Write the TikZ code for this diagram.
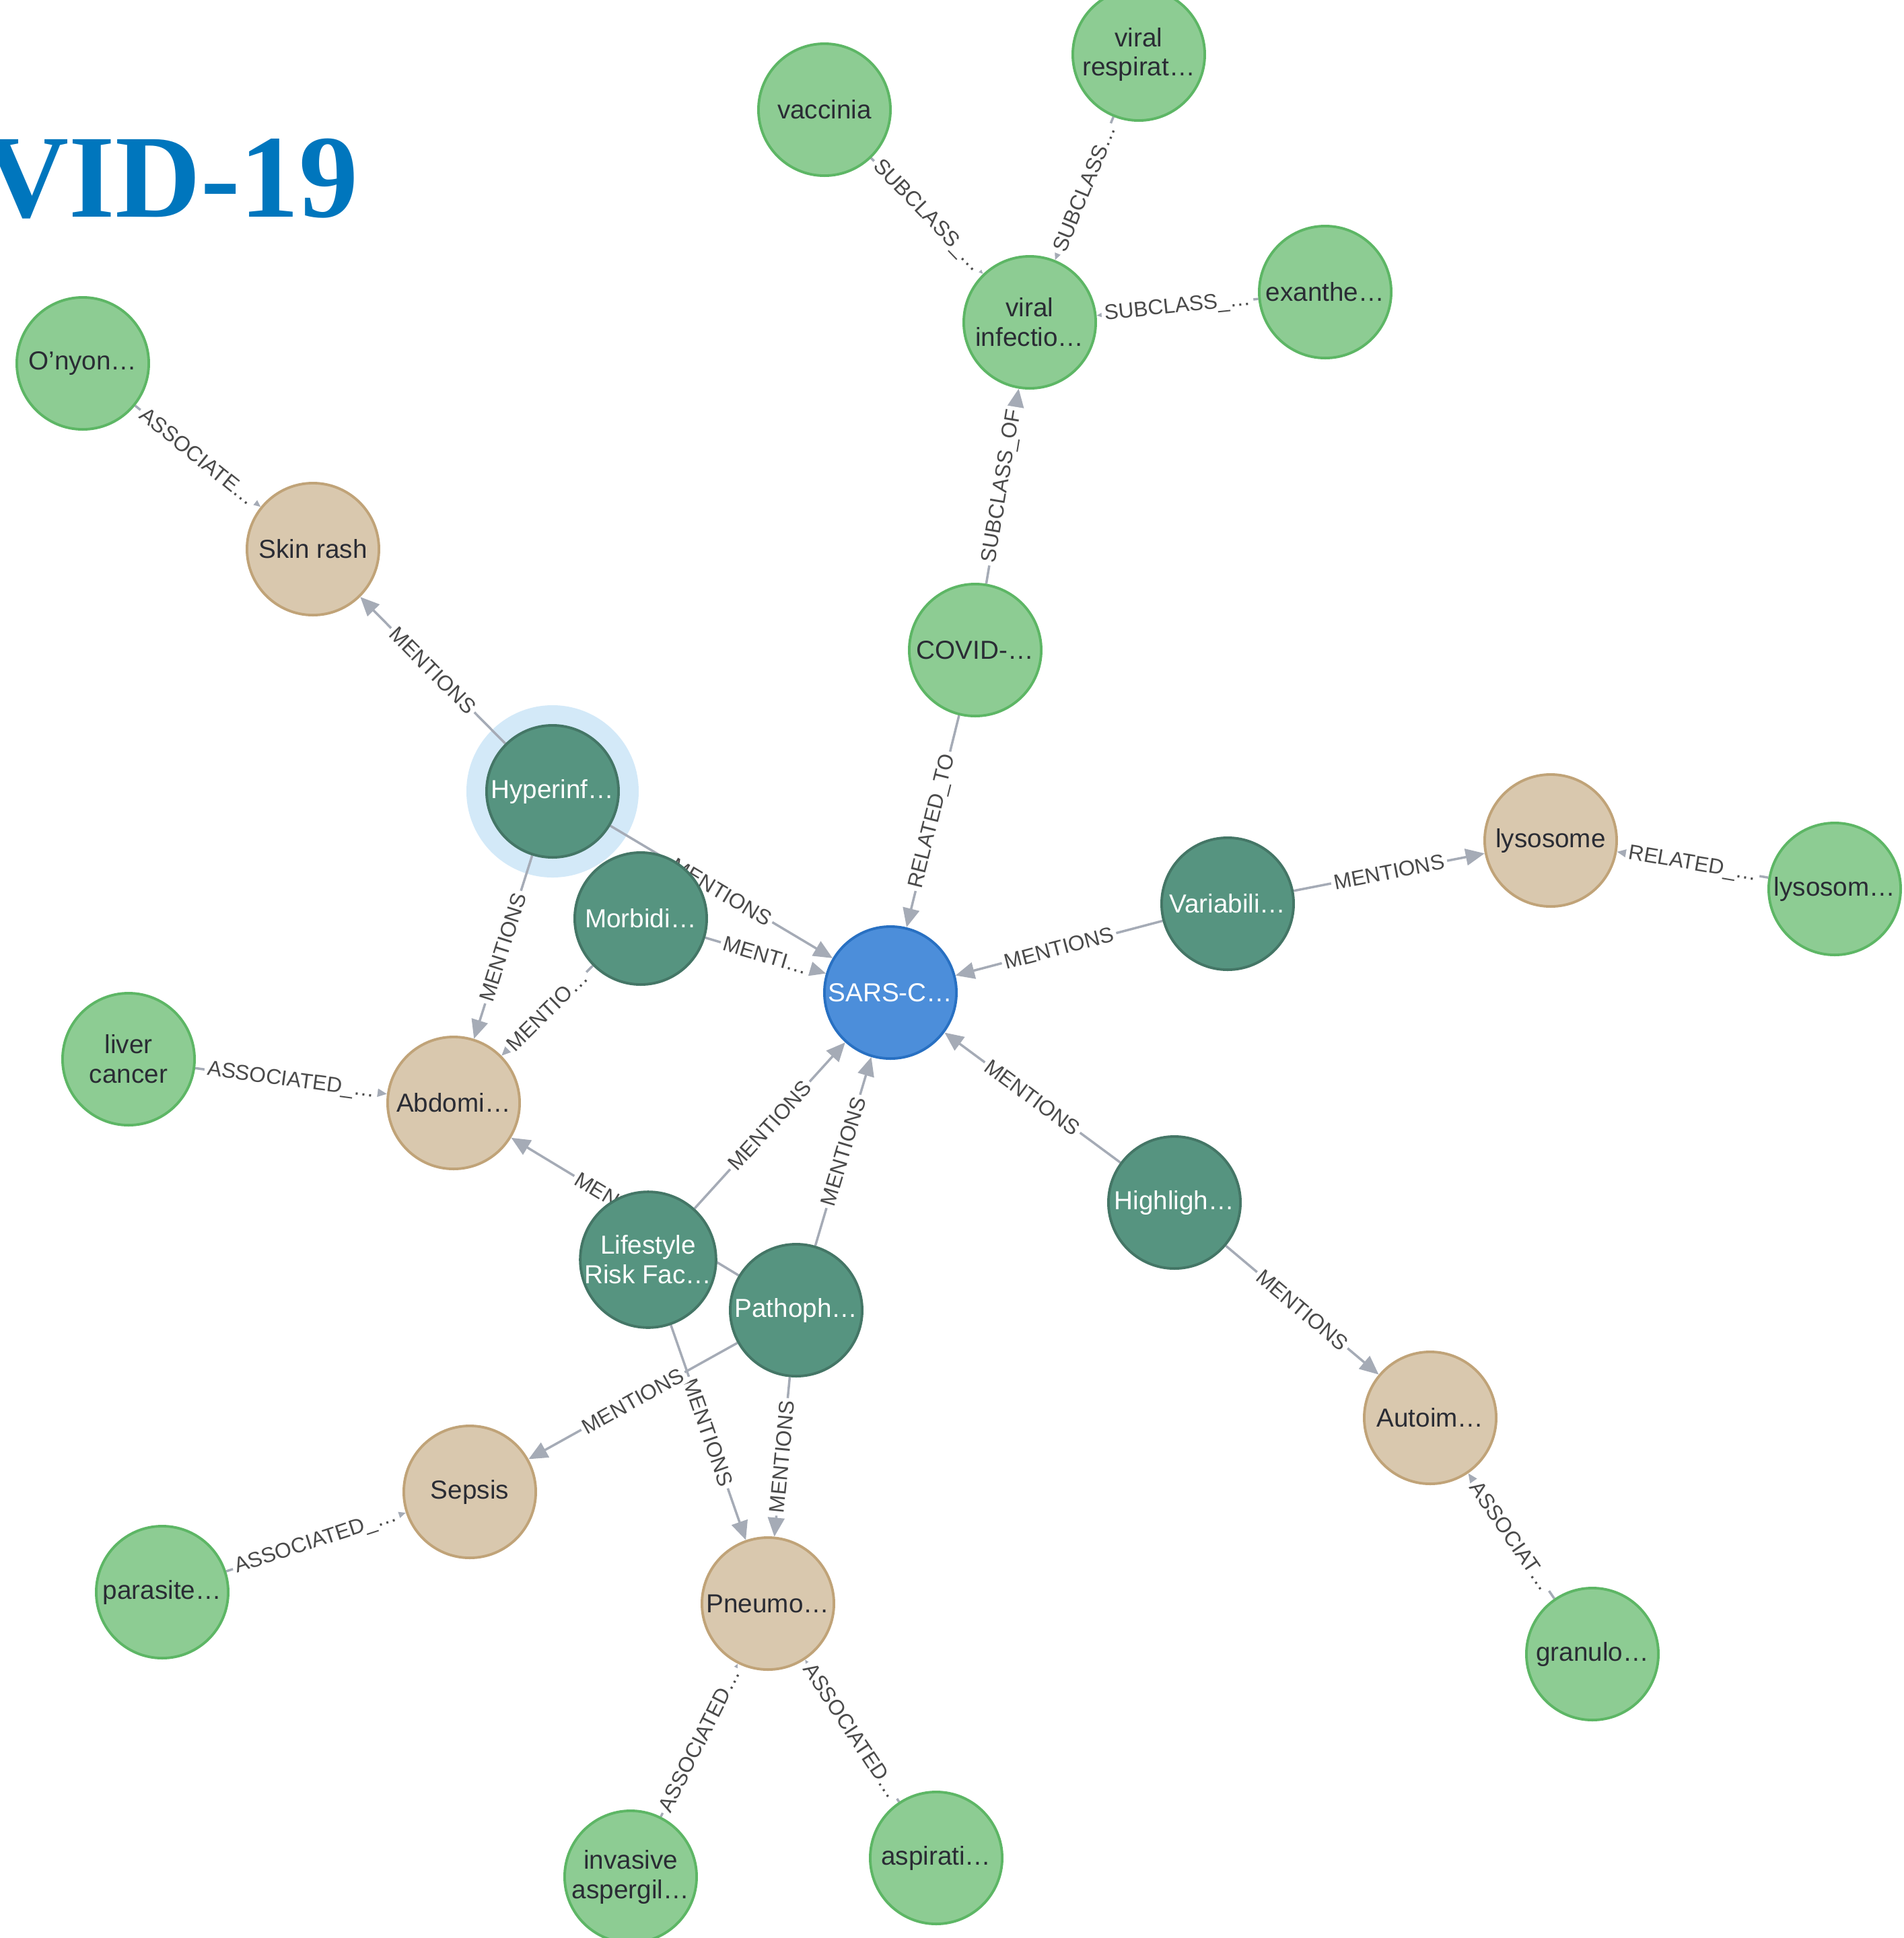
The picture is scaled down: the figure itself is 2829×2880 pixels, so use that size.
\documentclass[tikz,border=0pt]{standalone}
\usepackage{fontspec}
\setmainfont{Liberation Sans}
\newfontfamily\titlefont{Liberation Serif}
\usetikzlibrary{arrows.meta}
\definecolor{gF}{HTML}{8DCC93}
\definecolor{gS}{HTML}{5DB665}
\definecolor{tF}{HTML}{D9C8AE}
\definecolor{tS}{HTML}{C0A378}
\definecolor{dF}{HTML}{569480}
\definecolor{dS}{HTML}{447666}
\definecolor{bF}{HTML}{4C8EDA}
\definecolor{bS}{HTML}{2870C2}
\definecolor{edgec}{HTML}{A5ABB6}
\definecolor{labc}{HTML}{4A4A4A}
\definecolor{ntext}{HTML}{2A2C34}
\definecolor{halo}{HTML}{D3E9F8}
\definecolor{titleblue}{HTML}{0076BD}
\pgfdeclarelayer{bg}
\pgfdeclarelayer{edges}
\pgfsetlayers{bg,edges,main}
\tikzset{
  nbase/.style={circle, minimum size=1.96cm, inner sep=0pt, line width=1.1pt, align=center, font=\fontsize{11}{12.5}\selectfont},
  gnode/.style={nbase, fill=gF, draw=gS, text=ntext},
  tnode/.style={nbase, fill=tF, draw=tS, text=ntext},
  dnode/.style={nbase, fill=dF, draw=dS, text=white},
  bnode/.style={nbase, fill=bF, draw=bS, text=white},
  rel/.style={draw=edgec, line width=1pt, -{Triangle[length=8pt,width=7pt]}},
  lab/.style={midway, sloped, fill=white, inner sep=1.2pt, text=labc, font=\fontsize{9}{9}\selectfont}
}
\begin{document}
\begin{tikzpicture}[x=0.01cm,y=-0.01cm]
\useasboundingbox (0,0) rectangle (2829,2880);
\clip (0,0) rectangle (2829,2880);

\node[anchor=base west, inner sep=0pt, text=titleblue, font=\titlefont\bfseries\fontsize{50}{50}\selectfont] (title) at (-25,322) {VID-19};

% nodes
\node[gnode] (vac) at (1225,163) {vaccinia};
\node[gnode] (vresp) at (1692,81) {viral\\respirat\ldots};
\node[gnode] (vinf) at (1530,479) {viral\\infectio\ldots};
\node[gnode] (exan) at (1969,434) {exanthe\ldots};
\node[gnode] (onyon) at (123,540) {O'nyon\ldots};
\node[tnode] (skin) at (465,816) {Skin rash};
\node[gnode] (covid) at (1449,966) {COVID-\ldots};
\node[dnode] (hyper) at (821,1176) {Hyperinf\ldots};
\node[dnode] (morb) at (952,1365) {Morbidi\ldots};
\node[bnode] (sars) at (1323,1475) {SARS-C\ldots};
\node[dnode] (vari) at (1824,1343) {Variabili\ldots};
\node[tnode] (lysA) at (2304,1249) {lysosome};
\node[gnode] (lysB) at (2726,1321) {lysosom\ldots};
\node[gnode] (liver) at (191,1574) {liver\\cancer};
\node[tnode] (abdo) at (674,1639) {Abdomi\ldots};
\node[dnode] (high) at (1745,1787) {Highligh\ldots};
\node[dnode] (life) at (963,1872) {Lifestyle\\Risk Fac\ldots};
\node[dnode] (path) at (1183,1947) {Pathoph\ldots};
\node[tnode] (sepsis) at (698,2217) {Sepsis};
\node[tnode] (auto) at (2125,2107) {Autoim\ldots};
\node[gnode] (para) at (241,2366) {parasite\ldots};
\node[tnode] (pneu) at (1141,2383) {Pneumo\ldots};
\node[gnode] (gran) at (2366,2458) {granulo\ldots};
\node[gnode] (inv) at (937,2789) {invasive\\aspergil\ldots};
\node[gnode] (asp) at (1391,2761) {aspirati\ldots};

\begin{pgfonlayer}{bg}
  \fill[halo] (hyper.center) circle (128);
\end{pgfonlayer}

\begin{pgfonlayer}{edges}
  \draw[rel] (vac) -- node[lab]{SUBCLASS\_\ldots} (vinf);
  \draw[rel] (vresp) -- node[lab]{SUBCLASS\ldots} (vinf);
  \draw[rel] (exan) -- node[lab]{SUBCLASS\_\ldots} (vinf);
  \draw[rel] (covid) -- node[lab]{SUBCLASS\_OF} (vinf);
  \draw[rel] (covid) -- node[lab]{RELATED\_TO} (sars);
  \draw[rel] (onyon) -- node[lab]{ASSOCIATE\ldots} (skin);
  \draw[rel] (hyper) -- node[lab]{MENTIONS} (skin);
  \draw[rel] (hyper) -- node[lab]{MENTIONS} (sars);
  \draw[rel] (hyper) -- node[lab]{MENTIONS} (abdo);
  \draw[rel] (morb) -- node[lab]{MENTI\ldots} (sars);
  \draw[rel] (morb) -- node[lab]{MENTIO\ldots} (abdo);
  \draw[rel] (vari) -- node[lab]{MENTIONS} (sars);
  \draw[rel] (vari) -- node[lab]{MENTIONS} (lysA);
  \draw[rel] (lysB) -- node[lab]{RELATED\_\ldots} (lysA);
  \draw[rel] (liver) -- node[lab]{ASSOCIATED\_\ldots} (abdo);
  \draw[rel] (high) -- node[lab]{MENTIONS} (sars);
  \draw[rel] (high) -- node[lab]{MENTIONS} (auto);
  \draw[rel] (gran) -- node[lab]{ASSOCIAT\ldots} (auto);
  \draw[rel] (life) -- node[lab]{MENTIONS} (sars);
  \draw[rel] (life) -- node[lab]{MENTIONS} (pneu);
  \draw[rel] (path) -- node[lab]{MENTIONS} (abdo);
  \draw[rel] (path) -- node[lab]{MENTIONS} (sars);
  \draw[rel] (path) -- node[lab]{MENTIONS} (sepsis);
  \draw[rel] (path) -- node[lab]{MENTIONS} (pneu);
  \draw[rel] (para) -- node[lab]{ASSOCIATED\_\ldots} (sepsis);
  \draw[rel] (inv) -- node[lab]{ASSOCIATED\ldots} (pneu);
  \draw[rel] (asp) -- node[lab]{ASSOCIATED\ldots} (pneu);
\end{pgfonlayer}
\end{tikzpicture}
\end{document}
